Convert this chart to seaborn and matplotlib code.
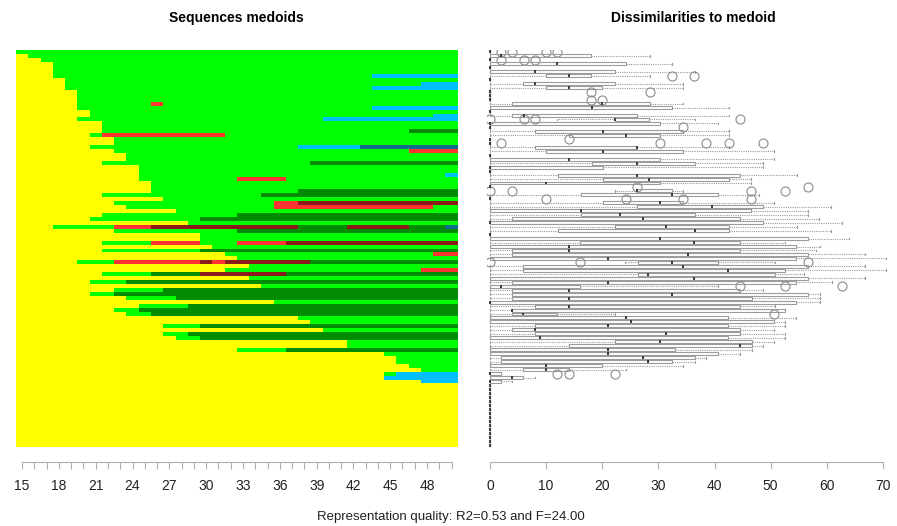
import numpy as np
import matplotlib
matplotlib.use("Agg")
import matplotlib.pyplot as plt
from matplotlib.colors import ListedColormap
import seaborn as sns

# state alphabet and colours
states = ["Y", "G", "D", "R", "M", "B", "T"]
state_colors = ["#FFFF00", "#00FF00", "#008B00", "#FF3333", "#8B1A1A", "#00BFFF", "#0E6E8A"]
ages = list(range(15, 51))

# one medoid sequence per row, top to bottom, as state/run-length pairs
seq_rows = [
    "G36", "Y1 G35", "Y2 G34", "Y3 G33", "Y3 G33", "Y3 G33", "Y3 G26 B7", "Y4 G32",
    "Y4 G29 B3", "Y4 G25 B7", "Y5 G31", "Y5 G31", "Y5 G31", "Y5 G6 R1 G24",
    "Y5 G24 B7", "Y6 G30", "Y6 G28 B2", "Y5 G20 B11", "Y7 G29", "Y7 G29",
    "Y7 G25 D4", "Y6 G1 R10 G19", "Y8 G28", "Y8 G28", "Y6 G17 B5 T8", "Y8 G24 R4",
    "Y9 G27", "Y9 G27", "Y7 G17 D12", "Y10 G26", "Y10 G26", "Y10 G25 B1",
    "Y10 G8 R4 G14", "Y11 G25", "Y11 G25", "Y11 G12 D13", "Y7 G13 D16", "Y12 G24",
    "Y8 G13 R2 M13", "Y9 G12 R13 G2", "Y13 G23", "Y7 G11 D18", "Y6 G9 D21", "Y14 G22",
    "Y3 G5 R3 M12 D4 M5 D3 T1", "Y8 G10 D18", "Y15 G21", "Y15 G21",
    "Y7 G4 R4 G3 R4 M14", "Y16 G20", "Y7 G8 D21", "Y17 G17 R2", "Y18 G18",
    "Y5 G3 R7 M1 R1 M7 D12", "Y19 G17", "Y17 G16 R3", "Y7 G4 D4 M7 D14", "Y19 G17",
    "Y6 G3 D27", "Y20 G16", "Y8 G4 D24", "Y6 G2 D28", "Y9 G4 D23", "Y21 G15",
    "Y10 G4 D22", "Y8 G2 D26", "Y9 G2 D25", "Y23 G13", "Y24 G12", "Y12 G3 D21",
    "Y25 G11", "Y12 G2 D22", "Y13 G2 D21", "Y27 G9", "Y27 G9", "Y18 G4 D14",
    "Y30 G6", "Y31 G5", "Y31 G5", "Y32 G4", "Y33 G3", "Y30 G1 B5", "Y30 B6", "Y33 B3",
    "Y36", "Y36", "Y36", "Y36", "Y36", "Y36", "Y36", "Y36",
    "Y36", "Y36", "Y36", "Y36", "Y36", "Y36", "Y36", "Y36",
]

# dissimilarity box statistics per row (same order as seq_rows)
box_q1 = [0, 0, 0, 0, 0, 0, 9.9, 0, 5.9, 9.9, 0, 0, 0, 4, 0, 0, 3.9, 22.2, 0, 0,
          8.1, 14.1, 0, 0, 8.1, 10, 0, 0, 18.2, 0, 0, 12.1, 20.2, 0, 0, 26.2, 16.2, 0, 20.2, 26.2,
          0, 16.2, 3.9, 0, 22.2, 12.1, 0, 0, 16, 0, 4, 4, 0, 26.3, 5.9, 5.9, 26.3, 0, 4, 0,
          4, 4, 4, 0, 8, 4, 4, 0, 0, 8, 4, 8, 0, 22.3, 14, 0, 0, 2, 2, 0,
          5.9, 0, 0, 0, 0, 0, 0, 0, 0, 0, 0, 0, 0, 0, 0, 0, 0, 0, 0, 0]
box_med = [0, 2, 0, 12, 0, 8, 14, 0, 8, 14, 0, 0, 0, 20, 18.2, 0, 6, 22.2, 0, 0,
           20.2, 24.2, 0, 0, 26.2, 20.2, 0, 14.1, 26.2, 0, 0, 26.2, 28.3, 10, 0, 26.2, 32.4, 0, 30.3, 39.5,
           16.2, 23.2, 27.2, 0, 31.3, 36.5, 0, 30.3, 36.3, 14, 14, 35.3, 21, 32.4, 34.3, 42.4, 28.2, 36.3, 21, 2,
           14, 32.4, 14, 0, 14, 4, 5.9, 24.3, 25.2, 21, 8, 31.3, 9, 30.3, 44.5, 21, 21, 27.3, 28.2, 10,
           10, 0, 4, 0, 0, 0, 0, 0, 0, 0, 0, 0, 0, 0, 0, 0, 0, 0, 0, 0]
box_q3 = [0, 18, 0, 24.3, 0, 22.3, 18, 0, 22.3, 20, 0, 0, 0, 28.5, 32.4, 0, 26.2, 28.3, 30.3, 0,
          34.4, 30.3, 0, 0, 26.2, 34.4, 0, 30.3, 36.5, 20.2, 0, 44.5, 42.5, 30.3, 0, 32.4, 40.6, 0, 34.4, 48.6,
          46.5, 36.5, 44.5, 48.6, 42.5, 42.5, 0, 56.6, 44.5, 54.6, 44.5, 56.7, 54.6, 40.6, 56.7, 52.5, 50.8, 56.7, 54.6, 16,
          44.5, 56.7, 46.6, 54.6, 44.5, 52.5, 12, 42.4, 50.6, 42.4, 44.5, 44.5, 42.4, 46.6, 46.6, 33, 40.6, 36.5, 32.4, 20,
          14, 2, 5.9, 2, 0, 0, 0, 0, 0, 0, 0, 0, 0, 0, 0, 0, 0, 0, 0, 0]
whisk_lo = [0, 0, 0, 0, 0, 0, 0, 0, 0, 0, 0, 0, 0, 0, 0, 0, 0, 12, 0, 0,
            0, 0, 0, 0, 0, 0, 0, 0, 0, 0, 0, 0, 0, 0, 0, 22.2, 0, 0, 0, 0,
            0, 0, 0, 0, 0, 0, 0, 0, 0, 0, 0, 0, 0, 24, 0, 0, 0, 0, 0, 0,
            0, 0, 0, 0, 0, 0, 0, 0, 0, 0, 0, 0, 0, 0, 0, 0, 0, 0, 0, 0,
            0, 0, 0, 0, 0, 0, 0, 0, 0, 0, 0, 0, 0, 0, 0, 0, 0, 0, 0, 0]
whisk_hi = [0, 28.5, 0, 32.4, 0, 36.5, 28.5, 0, 34.4, 34.4, 0, 0, 0, 34.4, 42.5, 0, 42.5, 36.5, 40.6, 0,
            42.5, 42.5, 0, 0, 42.5, 50.6, 0, 50.6, 48.6, 48.6, 0, 54.7, 46.5, 46.5, 0, 34.4, 48, 0, 50.6, 60.7,
            56.6, 56.6, 58.7, 62.7, 54.7, 60.7, 0, 64, 52.5, 58.8, 58, 66.8, 70.6, 50.8, 66.8, 70.6, 56, 66.8, 60.9, 40.6,
            48.6, 58.8, 58.8, 58.8, 50.8, 52.5, 22.3, 54.6, 52.5, 52.5, 50.6, 52.5, 52.5, 50.6, 48.6, 46.6, 44.5, 38.5, 36.5, 34.3,
            24.3, 2, 8, 4, 0, 0, 0, 0, 0, 0, 0, 0, 0, 0, 0, 0, 0, 0, 0, 0]
outliers = {
    0: [2, 4, 10, 12], 2: [2, 6, 8], 6: [32.4, 36.3], 10: [18, 28.5], 12: [18, 20],
    17: [0, 6, 8, 44.5], 19: [34.4], 22: [14.1], 23: [2, 30.3, 38.5, 42.5, 48.6],
    34: [26.2, 56.6], 35: [0, 3.9, 46.5, 52.6], 37: [10, 24.2, 34.4, 46.5],
    53: [0, 16, 56.7], 59: [44.5, 52.5, 62.8], 66: [50.6], 81: [12, 14, 22.3],
}

tick_ages = [15, 18, 21, 24, 27, 30, 33, 36, 39, 42, 45, 48]
dist_ticks = [0, 10, 20, 30, 40, 50, 60, 70]

# build the state matrix from the run-length strings
code = {s: i for i, s in enumerate(states)}
matrix = []
for row in seq_rows:
    cells = []
    for run in row.split():
        cells += [code[run[0]]] * int(run[1:])
    matrix.append(cells[:len(ages)])
matrix = np.array(matrix)

plt.rcParams["font.family"] = ["Liberation Sans", "DejaVu Sans"]
fig = plt.figure(figsize=(8.97, 5.26), dpi=100)
ax_seq = fig.add_axes([16 / 897, 1 - 447 / 526, 441.7 / 897, 397 / 526])
ax_box = fig.add_axes([487 / 897, 1 - 447 / 526, 406 / 897, 397 / 526])

sns.heatmap(matrix, cmap=ListedColormap(state_colors), vmin=-0.5, vmax=len(states) - 0.5,
            cbar=False, ax=ax_seq, xticklabels=False, yticklabels=False)

axis_grey = "#b0b0b0"
ax_seq.set_xticks(np.arange(len(ages)) + 0.5)
ax_seq.set_xticklabels([str(a) if a in tick_ages else "" for a in ages])
ax_seq.set_yticks([])
ax_seq.spines["bottom"].set_visible(True)
ax_seq.spines["bottom"].set_position(("outward", 10.8))
ax_seq.spines["bottom"].set_bounds(0.5, len(ages) - 0.5)
ax_seq.spines["bottom"].set_color(axis_grey)
for side in ["top", "left", "right"]:
    ax_seq.spines[side].set_visible(False)

# boxplots of dissimilarities to medoid
stats = []
for i in range(len(seq_rows)):
    stats.append(dict(med=box_med[i], q1=box_q1[i], q3=box_q3[i],
                      whislo=whisk_lo[i], whishi=whisk_hi[i],
                      fliers=outliers.get(i, [])))
line_grey = "#9c9c9c"
ax_box.bxp(stats, positions=np.arange(len(stats)), widths=0.75, orientation="horizontal",
           capwidths=0.45,
           boxprops=dict(color=line_grey, lw=0.8),
           whiskerprops=dict(color=line_grey, lw=0.8, ls=(0, (1, 1))),
           capprops=dict(color=line_grey, lw=0.8),
           medianprops=dict(color="#3a3a3a", lw=1.4),
           flierprops=dict(marker="o", mfc="none", mec="#8c8c8c", ms=6.5, mew=0.8))
ax_box.set_ylim(len(stats) - 0.5, -0.5)
ax_box.set_xlim(-0.53, 71.8)
ax_box.set_yticks([])
ax_box.set_xticks(dist_ticks)
ax_box.spines["bottom"].set_position(("outward", 10.8))
ax_box.spines["bottom"].set_bounds(0, 70)
ax_box.spines["bottom"].set_color(axis_grey)
for side in ["top", "left", "right"]:
    ax_box.spines[side].set_visible(False)

for ax in (ax_seq, ax_box):
    ax.tick_params(axis="x", length=5, width=0.8, color=axis_grey, pad=7,
                   labelsize=10, labelcolor="#222222", rotation=0)
    ax.set_xlabel("")
    ax.set_ylabel("")

fig.text(236 / 897, 1 - 18 / 526, "Sequences medoids", ha="center", va="center",
         fontsize=10, fontweight="bold")
fig.text(693 / 897, 1 - 18 / 526, "Dissimilarities to medoid", ha="center", va="center",
         fontsize=10, fontweight="bold")
fig.text(451 / 897, 1 - 517 / 526, "Representation quality: R2=0.53 and F=24.00",
         ha="center", va="center", fontsize=9.5, color="#222222")

fig.savefig("out.png", dpi=100)
